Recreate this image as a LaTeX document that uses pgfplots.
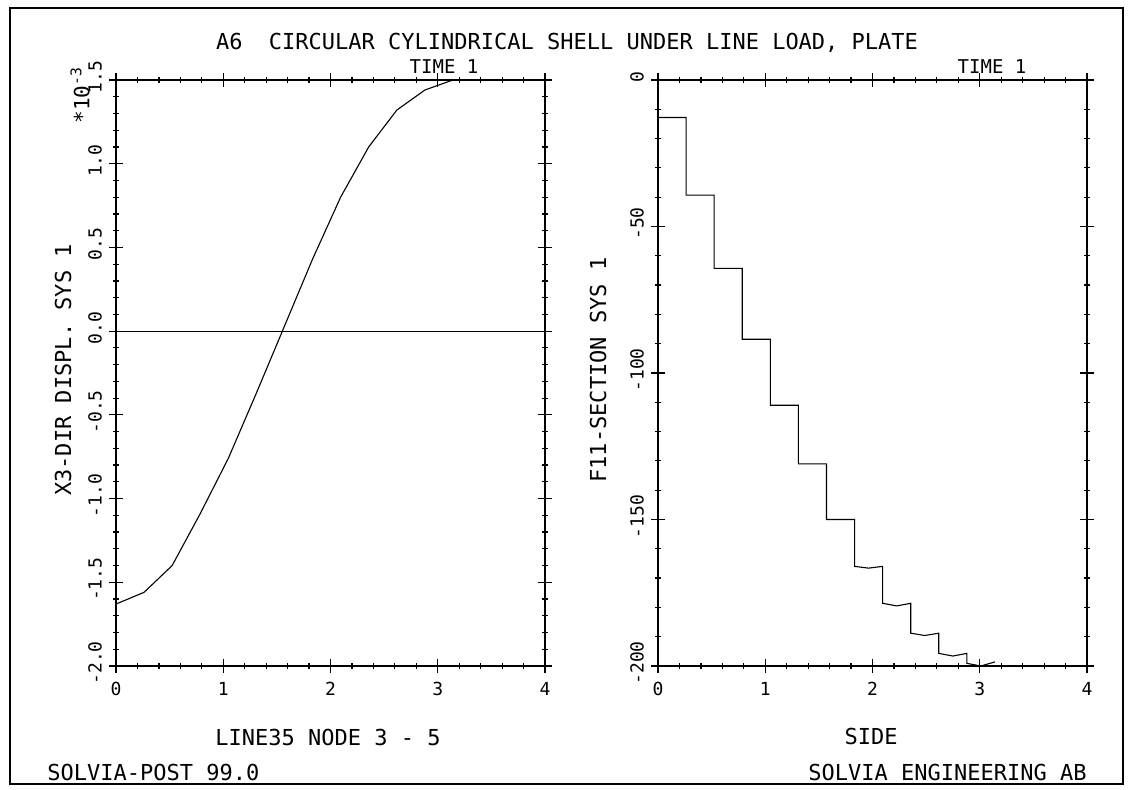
\documentclass[border=0pt]{standalone}
\usepackage{pgfplots}
\pgfplotsset{compat=1.18}
\usepackage{fontspec}
\setmainfont{DejaVu Sans Mono}
\begin{document}
\begin{tikzpicture}
\useasboundingbox (0pt,0pt) rectangle (566.5pt,395pt);
\fill[white] (0pt,0pt) rectangle (566.5pt,395pt);
\draw[line width=0.7pt] (5pt,3pt) rectangle (561.5pt,391pt);
\pgfplotsset{
  solvia/.style={
    scale only axis, width=214.5pt, height=293pt, anchor=south west,
    xmin=0, xmax=4, xtick={0,1,2,3,4}, xticklabels={0,1,2,3,4},
    minor x tick num=4, minor y tick num=4,
    tick align=center, major tick length=7pt, minor tick length=3pt,
    axis line style={line width=0.8pt},
    tick style={black, line width=0.6pt},
    ticklabel style={font=\fontsize{9}{10}\selectfont},
    yticklabel style={rotate=90, anchor=south, xshift=1.5pt},
    xticklabel style={anchor=north, yshift=-1pt},
    clip=false,
  }
}
\begin{axis}[solvia, at={(58pt,62pt)},
  ymin=-2, ymax=1.5, ytick={-2,-1.5,-1,-0.5,0,0.5,1,1.5},
  yticklabels={-2.0,-1.5,-1.0,-0.5,0.0,0.5,1.0,1.5}]
\addplot[black, line width=0.5pt] coordinates {(0,0) (4,0)};
\addplot[black, line width=0.55pt] coordinates {
(0,-1.63) (0.2618,-1.56) (0.5236,-1.40) (0.7854,-1.09) (1.0472,-0.76)
(1.3090,-0.37) (1.5708,0.03) (1.8326,0.43) (2.0944,0.80) (2.3562,1.10)
(2.6180,1.32) (2.8798,1.44) (3.1416,1.50)};
\end{axis}
\begin{axis}[solvia, at={(329pt,62pt)},
  ymin=-200, ymax=0, ytick={-200,-150,-100,-50,0},
  yticklabels={-200,-150,-100,-50,0}]
\addplot[black, line width=0.55pt] coordinates {
(0,-12.8) (0.2618,-12.8) (0.2618,-39.3) (0.5236,-39.3) (0.5236,-64.3) (0.7854,-64.3)
(0.7854,-88.5) (1.0472,-88.5) (1.0472,-111) (1.3090,-111) (1.3090,-131) (1.5708,-131)
(1.5708,-150) (1.8326,-150) (1.8326,-166) (1.9635,-166.6) (2.0944,-166)
(2.0944,-178.6) (2.2253,-179.5) (2.3562,-178.6) (2.3562,-188.8) (2.4871,-189.6) (2.6180,-188.8)
(2.6180,-195.7) (2.7489,-196.6) (2.8798,-195.7) (2.8798,-199.1) (3.01,-200) (3.1416,-198.6)};
\end{axis}
\tikzset{lab/.style={inner sep=0pt, font=\fontsize{11}{13}\selectfont}}
\node[lab] at (283.5pt,373.5pt) {A6\ \ CIRCULAR CYLINDRICAL SHELL UNDER LINE LOAD, PLATE};
\node[lab, font=\fontsize{9.5}{11}\selectfont] at (222pt,361.5pt) {TIME 1};
\node[lab, font=\fontsize{9.5}{11}\selectfont] at (496pt,361.5pt) {TIME 1};
\node[lab, font=\fontsize{10.5}{12}\selectfont, rotate=90, anchor=west] at (40pt,333pt) {*10\textsuperscript{-3}};
\node[lab, rotate=90] at (31.5pt,210pt) {X3-DIR DISPL. SYS 1};
\node[lab, rotate=90] at (299pt,210pt) {F11-SECTION SYS 1};
\node[lab] at (164pt,26.5pt) {LINE35 NODE 3 - 5};
\node[lab] at (435.5pt,27pt) {SIDE};
\node[lab, anchor=west] at (23.5pt,9pt) {SOLVIA-POST 99.0};
\node[lab, anchor=east] at (543.5pt,9pt) {SOLVIA ENGINEERING AB};
\end{tikzpicture}
\end{document}
